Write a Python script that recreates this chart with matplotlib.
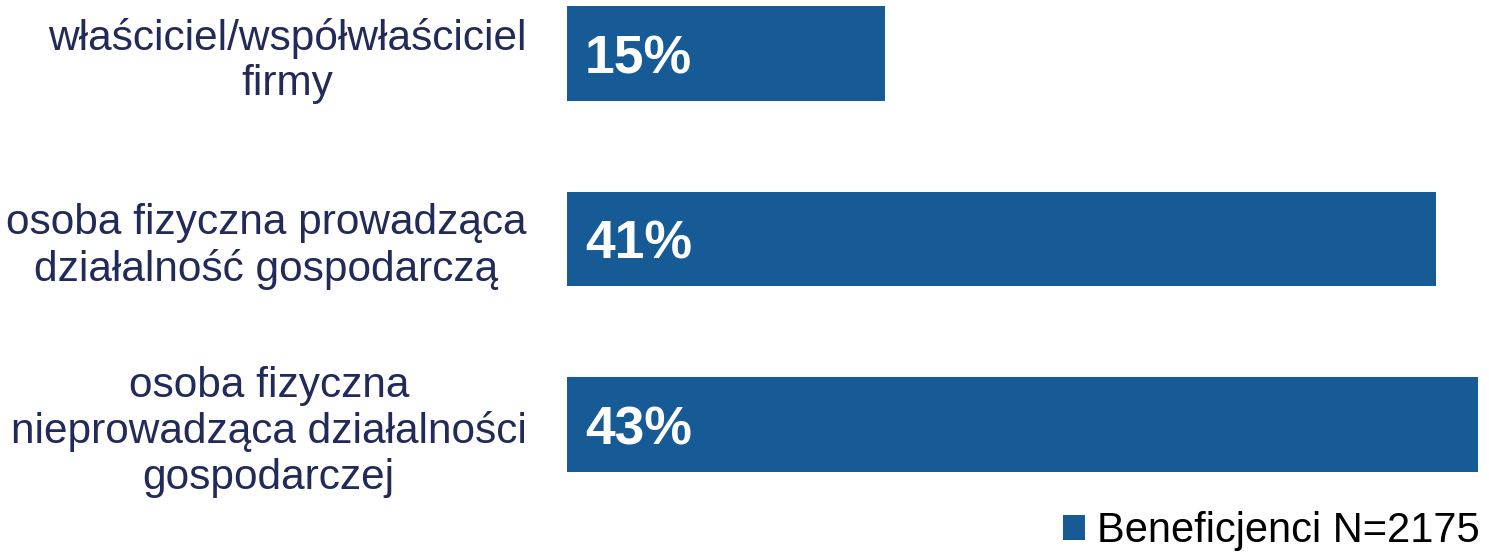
import numpy as np
import matplotlib
matplotlib.use('Agg')
from matplotlib import pyplot as plt

plt.rcParams['font.family'] = ['Liberation Sans', 'DejaVu Sans']

# data
categories = ['właściciel/współwłaściciel\nfirmy',
              'osoba fizyczna prowadząca\ndziałalność gospodarczą',
              'osoba fizyczna\nnieprowadząca działalności\ngospodarczej']
values = [15, 41, 43]
series_name = 'Beneficjenci N=2175'

bar_color = '#165a96'
label_color = '#222a5a'

W, H = 1489, 554
fig = plt.figure(figsize=(W / 100, H / 100), dpi=100)
ax = fig.add_axes([567 / W, 1 - 482 / H, (1478 - 567) / W, 482 / H])

y = np.arange(len(categories))
ax.barh(y, values, height=0.51, color=bar_color, label=series_name)
ax.set_xlim(0, 43)
ax.set_ylim(2.31, -0.29)

for yi, v in zip(y, values):
    ax.text(0.85, yi + 0.03, f'{v}%', color='white', fontsize=38.5,
            fontweight='bold', va='center', ha='left')

ax.set_yticks(y)
ax.set_yticklabels(categories, fontsize=30.5, color=label_color,
                   multialignment='center', linespacing=1.18)
ax.tick_params(axis='y', length=0, pad=29)
ax.set_xticks([])
for s in ax.spines.values():
    s.set_visible(False)

fig.legend(loc='center right', bbox_to_anchor=(1480 / W, 1 - 531 / H),
           frameon=False, fontsize=30, handlelength=0.53, handleheight=0.53,
           handletextpad=0.3, borderpad=0, borderaxespad=0)

fig.savefig('out.png', dpi=100)
